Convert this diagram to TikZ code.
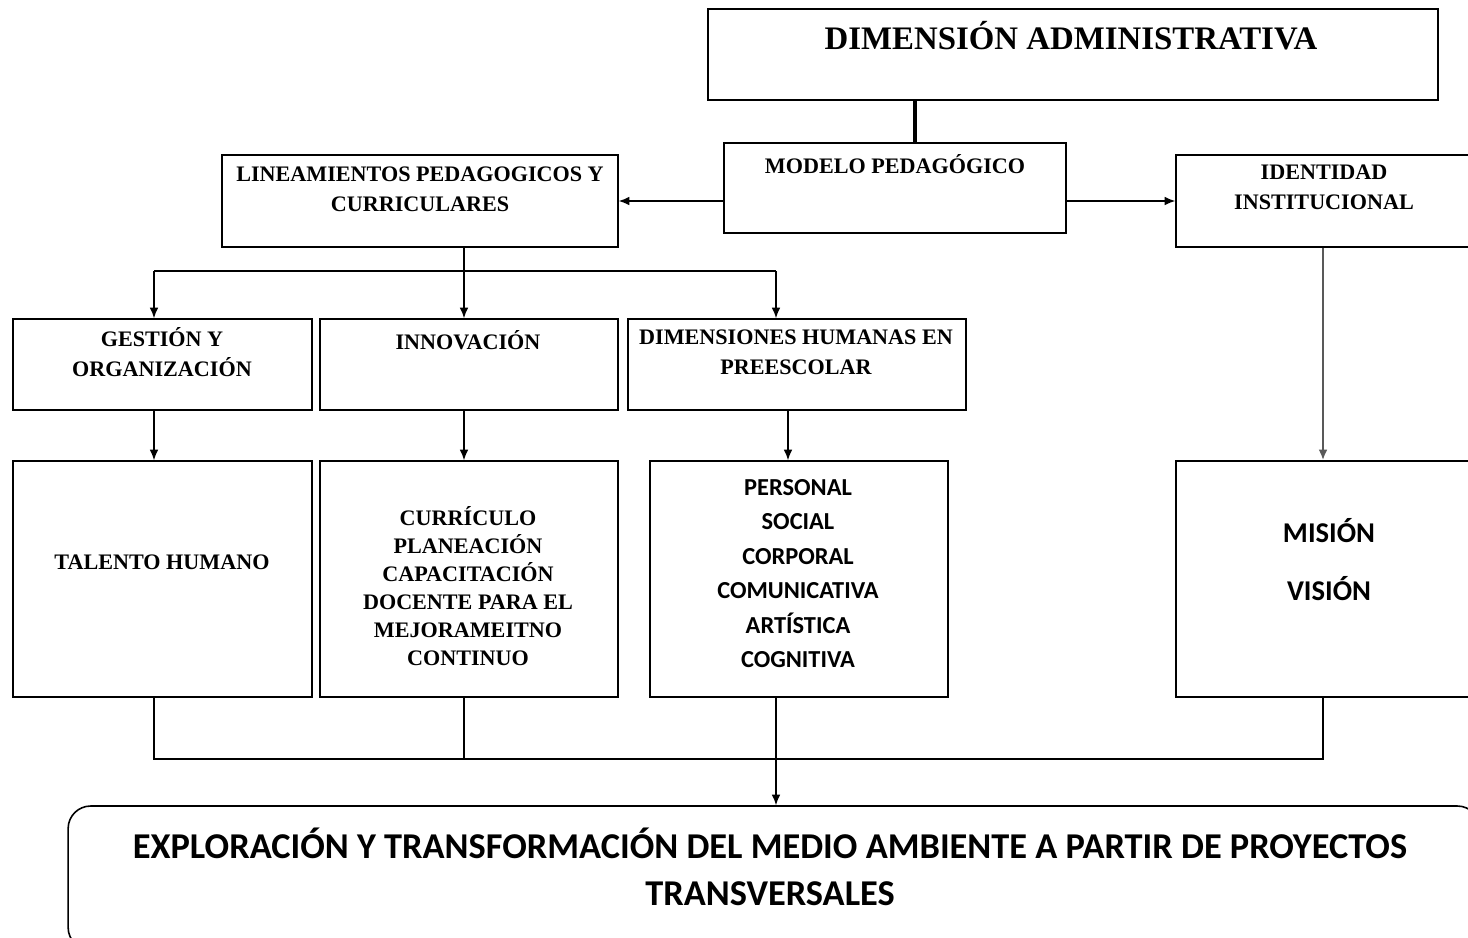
\documentclass[tikz,border=0pt]{standalone}
\usepackage{fontspec}
\setmainfont{Liberation Serif}
\newfontfamily\calib{Carlito}
\usetikzlibrary{arrows.meta, positioning}

\begin{document}
\begin{tikzpicture}[x=0.02cm, y=-0.02cm,
		box/.style={draw, line width=0.9pt, inner sep=0pt},
		lbl/.style={align=center, font=\bfseries\fontsize{12.6}{17}\selectfont, inner sep=0pt},
		arr/.style={-{Latex[length=6pt,width=5pt]}, line width=0.9pt},
		con/.style={line width=0.9pt}]
		\useasboundingbox (0,0) rectangle (1468,937);
		% boxes
		\node[box, minimum width=14.6cm, minimum height=1.82cm] (dimadm) at (1073,54.5) {};
		\node[box, minimum width=6.84cm, minimum height=1.8cm] (modelo) at (895,188) {};
		\node[box, minimum width=7.92cm, minimum height=1.84cm] (lineam) at (420,201) {};
		\node[box, minimum width=5.96cm, minimum height=1.84cm] (ident) at (1325,201) {};
		\node[box, minimum width=5.98cm, minimum height=1.82cm] (gestion) at (162.5,364.5) {};
		\node[box, minimum width=5.96cm, minimum height=1.82cm] (innov) at (469,364.5) {};
		\node[box, minimum width=6.76cm, minimum height=1.82cm] (dimhum) at (797,364.5) {};
		\node[box, minimum width=5.98cm, minimum height=4.72cm] (talento) at (162.5,579) {};
		\node[box, minimum width=5.96cm, minimum height=4.72cm] (curric) at (469,579) {};
		\node[box, minimum width=5.96cm, minimum height=4.72cm] (personal) at (799,579) {};
		\node[box, minimum width=5.96cm, minimum height=4.72cm] (mision) at (1325,579) {};
		\node[box, rounded corners=0.45cm, minimum width=28.24cm, minimum height=2.88cm] (explor) at (774,878) {};

		% texts
		\node[lbl, font=\bfseries\fontsize{18.7}{22}\selectfont] (tdimadm) at (1071,36) {DIMENSIÓN ADMINISTRATIVA};
		\node[lbl] (tmodelo) at (895,164) {MODELO PEDAGÓGICO};
		\node[lbl] (tlineam) at (420,189) {LINEAMIENTOS PEDAGOGICOS Y\\CURRICULARES};
		\node[lbl] (tident) at (1324,187.5) {IDENTIDAD\\INSTITUCIONAL};
		\node[lbl] (tgestion) at (162,352.5) {GESTIÓN Y\\ORGANIZACIÓN};
		\node[lbl] (tinnov) at (468,340) {INNOVACIÓN};
		\node[lbl] (tdimhum) at (796,352) {DIMENSIONES HUMANAS EN\\PREESCOLAR};
		\node[lbl] (ttalento) at (162,562) {TALENTO HUMANO};
		\node[lbl, font=\bfseries\fontsize{12.6}{15.9}\selectfont] (tcurric) at (468,586) {CURRÍCULO\\PLANEACIÓN\\CAPACITACIÓN\\DOCENTE PARA EL\\MEJORAMEITNO\\CONTINUO};
		\node[lbl, font=\calib\bfseries\fontsize{13.9}{19.6}\selectfont] (tpersonal) at (798,573.5) {PERSONAL\\SOCIAL\\CORPORAL\\COMUNICATIVA\\ARTÍSTICA\\COGNITIVA};
		\node[lbl, font=\calib\bfseries\fontsize{16.3}{33}\selectfont] (tmision) at (1329,560) {MISIÓN\\VISIÓN};
		\node[lbl, font=\calib\bfseries\fontsize{20.7}{27}\selectfont] (texplor) at (770,867) {EXPLORACIÓN Y TRANSFORMACIÓN DEL MEDIO AMBIENTE A PARTIR DE PROYECTOS\\TRANSVERSALES};

		% connectors
		\coordinate (top) at (915,100);
		\coordinate (split) at (464,271);
		\coordinate (joinL) at (154,759);
		\coordinate (joinR) at (1323,759);
		\draw[line width=1.8pt] (top) -- (modelo.north -| top);
		\draw[arr] (modelo.west |- lineam.east) -- (lineam.east);
		\draw[arr] (modelo.east |- ident.west) -- (ident.west);
		\draw[con] (lineam.south -| split) -- (split);
		\draw[con] (154,271) -- (776,271);
		\draw[arr] (split) -- (innov.north -| split);
		\draw[arr] (154,271) -- (gestion.north -| 154,0);
		\draw[arr] (776,271) -- (dimhum.north -| 776,0);
		\draw[arr] (gestion.south -| 154,0) -- (talento.north -| 154,0);
		\draw[arr] (innov.south -| split) -- (curric.north -| split);
		\draw[arr] (dimhum.south -| 788,0) -- (personal.north -| 788,0);
		\draw[arr, black!65, line width=1.2pt] (ident.south -| joinR) -- (mision.north -| joinR);
		\draw[con] (talento.south -| joinL) -- (joinL) -- (joinR) -- (mision.south -| joinR);
		\draw[con] (curric.south -| split) -- (joinL -| split);
		\draw[arr] (personal.south -| 776,0) -- (explor.north -| 776,0);
	\end{tikzpicture}
\end{document}
